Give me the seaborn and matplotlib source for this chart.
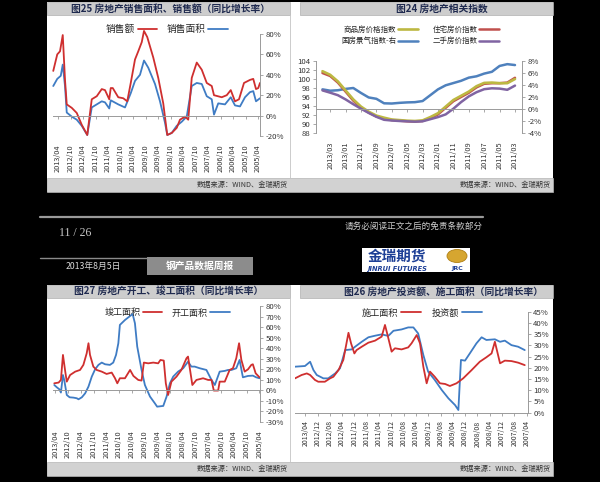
import numpy as np
import pandas as pd
import matplotlib
matplotlib.use("Agg")
import matplotlib.pyplot as plt
import seaborn as sns
from matplotlib.patches import Rectangle, Ellipse

# ---------------- data ----------------
# 图25 房地产销售面积、销售额（同比增长率, %）
SALES_VALUE_T = [2013.44, 2013.28, 2013.17, 2013.06, 2012.97, 2012.90, 2012.70, 2012.50, 2012.30, 2012.08,
                 2011.90, 2011.70, 2011.50, 2011.37, 2011.20, 2011.14, 2011.06, 2010.84, 2010.64, 2010.48,
                 2010.34, 2010.17, 2010.04, 2009.90, 2009.81, 2009.68, 2009.44, 2009.24, 2009.04, 2008.88,
                 2008.70, 2008.50, 2008.37, 2008.17, 2008.04, 2007.90, 2007.70, 2007.50, 2007.30, 2007.10,
                 2007.01, 2006.70, 2006.50, 2006.34, 2006.17, 2006.01, 2005.81, 2005.57, 2005.44, 2005.33,
                 2005.24, 2005.17]
SALES_VALUE = [43.8, 60, 63, 79, 35, 11, 7.6, 2.6, -9, -19,
               16, 19, 26, 25, 16, 27, 27, 18, 17, 14,
               32, 55, 63, 72, 83, 77, 57, 37, 12, -19,
               -17, -12, -4, -1, -4, 37, 52, 45, 32, 29,
               20, 18, 20, 25, 14, 16, 32, 35, 36, 26,
               27, 32]
SALES_AREA_T = [2013.44, 2013.28, 2013.14, 2013.06, 2012.97, 2012.90, 2012.70, 2012.50, 2012.30, 2012.08,
                2011.90, 2011.70, 2011.50, 2011.37, 2011.20, 2011.14, 2010.84, 2010.57, 2010.34, 2010.17,
                2009.97, 2009.81, 2009.64, 2009.37, 2009.17, 2008.97, 2008.88, 2008.70, 2008.50, 2008.30,
                2008.10, 2007.90, 2007.70, 2007.50, 2007.30, 2007.10, 2007.01, 2006.84, 2006.57, 2006.34,
                2006.17, 2005.97, 2005.77, 2005.57, 2005.44, 2005.33, 2005.17]
SALES_AREA = [29, 36, 39, 50, 29, 3, -1, -4, -10, -19,
              8, 11, 14, 13, 7, 15, 11, 8, 22, 34,
              40, 54, 47, 31, 14, -7, -19, -17, -10, -6,
              -1, 29, 32, 31, 19, 16, 1, 12, 11, 18,
              10, 9, 18, 23, 24, 14, 17]
HALF_YEAR_LABELS = ['2005/04', '2005/10', '2006/04', '2006/10', '2007/04', '2007/10', '2008/04', '2008/10',
                    '2009/04', '2009/10', '2010/04', '2010/10', '2011/04', '2011/10', '2012/04', '2012/10',
                    '2013/04']

# 图24 房地产相关指数 (monthly)
CH2_MONTHS = ['2011/03', '2011/04', '2011/05', '2011/06', '2011/07', '2011/08', '2011/09', '2011/10',
              '2011/11', '2011/12', '2012/01', '2012/02', '2012/03', '2012/04', '2012/05', '2012/06',
              '2012/07', '2012/08', '2012/09', '2012/10', '2012/11', '2012/12', '2013/01', '2013/02',
              '2013/03', '2013/04']
HOUSE_PRICE = [5.2, 4.4, 4.3, 4.3, 4.2, 3.6, 2.7, 2.0, 1.3, 0.2, -0.9, -1.5, -2.0, -2.1, -2.05, -1.95,
               -1.85, -1.6, -1.25, -0.6, 0.2, 1.4, 2.9, 4.4, 5.5, 6.0]
COMMODITY_PRICE = [5.0, 4.3, 4.3, 4.4, 4.35, 3.8, 2.9, 2.2, 1.5, 0.4, -0.7, -1.35, -1.9, -2.0, -1.95, -1.85,
                   -1.75, -1.45, -1.1, -0.45, 0.4, 1.6, 3.1, 4.6, 5.7, 6.3]
SECOND_HAND_PRICE = [3.9, 3.2, 3.4, 3.45, 3.3, 2.8, 2.1, 1.15, 0.05, -0.9, -1.35, -1.7, -2.05, -2.11, -2.05,
                     -2.0, -1.92, -1.8, -1.3, -0.65, 0.05, 0.8, 1.6, 2.3, 2.72, 3.1]
CLIMATE_INDEX = [103.1, 103.3, 102.9, 101.6, 101.2, 100.6, 100.3, 99.6, 99.1, 98.6, 97.7, 96.4, 95.1, 94.85,
                 94.8, 94.7, 94.55, 94.6, 95.6, 95.9, 96.9, 98.0, 97.8, 97.5, 97.4, 97.7]

# 图27 房地产开工、竣工面积（同比增长率, %）
COMPLETED_T = [2013.29, 2013.12, 2013.03, 2012.95, 2012.86, 2012.80, 2012.67, 2012.47, 2012.28, 2012.15,
               2012.02, 2011.95, 2011.89, 2011.76, 2011.63, 2011.43, 2011.24, 2011.04, 2010.91, 2010.82,
               2010.72, 2010.52, 2010.32, 2010.19, 2010.00, 2009.87, 2009.78, 2009.61, 2009.41, 2009.22,
               2009.13, 2009.00, 2008.92, 2008.83, 2008.70, 2008.50, 2008.31, 2008.11, 2008.05, 2007.88,
               2007.72, 2007.46, 2007.26, 2007.13, 2007.04, 2006.87, 2006.81, 2006.61, 2006.42, 2006.29,
               2006.16, 2006.05, 2005.96, 2005.83, 2005.70, 2005.57, 2005.51, 2005.40, 2005.25]
COMPLETED = [6.5, 7.2, 9.7, 33.5, 17.6, 8.1, 14.4, 17.6, 19.2, 24.0,
             35.0, 44.6, 33.5, 22.4, 19.2, 17.6, 15.4, 16.7, 11.3, 6.5,
             11.3, 11.3, 19.2, 13.5, 9.7, 9.1, 26.2, 25.5, 26.2, 25.5,
             28.7, 28.1, 6.5, -4.6, 8.1, 12.9, 19.2, 30.3, 31.9, 4.9,
             9.7, 11.3, 9.7, 9.7, -0.4, -0.4, 8.1, 8.1, 19.2, 20.8,
             30.3, 44.6, 28.7, 17.6, 19.8, 24.0, 24.6, 16.0, 12.2]
STARTED_T = [2013.29, 2013.19, 2013.09, 2013.03, 2012.95, 2012.90, 2012.80, 2012.69, 2012.54, 2012.41,
             2012.34, 2012.21, 2012.08, 2011.95, 2011.82, 2011.69, 2011.56, 2011.43, 2011.30, 2011.11,
             2010.98, 2010.87, 2010.78, 2010.72, 2010.52, 2010.32, 2010.22, 2010.13, 2010.04, 2009.87,
             2009.74, 2009.54, 2009.35, 2009.26, 2009.02, 2008.89, 2008.76, 2008.63, 2008.44, 2008.24,
             2008.05, 2007.92, 2007.79, 2007.59, 2007.33, 2007.13, 2007.00, 2006.81, 2006.61, 2006.48,
             2006.35, 2006.16, 2006.03, 2005.90, 2005.70, 2005.51, 2005.38, 2005.25]
STARTED = [4.9, 2.7, 0.8, -2.3, 14.4, 9.7, -4.6, -6.8, -7.1, -7.7,
           -8.7, -6.8, -3.0, 3.4, 12.9, 19.8, 24.0, 26.2, 24.6, 24.0,
           26.2, 33.5, 44.6, 62.0, 66.7, 70.5, 72.4, 63.6, 41.4, 19.2,
           4.9, -6.1, -12.5, -15.7, -15.0, -6.1, 6.5, 12.9, 17.6, 20.8,
           27.1, 22.4, 22.4, 20.8, 19.2, 9.7, 4.9, 17.6, 18.3, 19.2,
           19.2, 20.8, 28.7, 12.2, 13.5, 13.8, 12.2, 11.3]

# 图26 房地产投资额、施工面积（同比增长率, %）
INVEST_T = [2013.53, 2013.26, 2013.12, 2013.03, 2012.94, 2012.76, 2012.63, 2012.44, 2012.31, 2012.17,
            2011.99, 2011.90, 2011.72, 2011.54, 2011.36, 2011.18, 2011.00, 2010.86, 2010.64, 2010.46,
            2010.32, 2010.19, 2010.05, 2009.92, 2009.74, 2009.55, 2009.37, 2009.19, 2009.10, 2009.03,
            2008.92, 2008.79, 2008.61, 2008.47, 2008.34, 2008.11, 2007.97, 2007.84, 2007.66, 2007.48,
            2007.30]
INVEST = [20.5, 20.8, 22.7, 19.0, 16.8, 15.3, 15.3, 17.5, 19.8, 27.9,
          28.2, 29.4, 31.6, 33.6, 34.3, 34.9, 34.2, 36.5, 37.1, 38.0,
          38.0, 35.3, 25.7, 18.3, 14.6, 10.1, 6.4, 3.4, 1.2, 23.5,
          23.2, 26.4, 30.9, 33.6, 32.4, 32.7, 31.6, 32.1, 30.1, 29.4,
          27.9]
UNDER_CONSTR_T = [2013.53, 2013.35, 2013.21, 2013.12, 2012.99, 2012.90, 2012.72, 2012.58, 2012.49, 2012.35,
                  2012.22, 2012.08, 2012.01, 2011.92, 2011.86, 2011.72, 2011.54, 2011.36, 2011.18, 2011.09,
                  2011.02, 2010.91, 2010.82, 2010.64, 2010.46, 2010.37, 2010.23, 2010.14, 2010.05, 2009.96,
                  2009.87, 2009.74, 2009.60, 2009.46, 2009.33, 2009.15, 2008.97, 2008.74, 2008.52, 2008.34,
                  2008.20, 2008.11, 2007.97, 2007.84, 2007.66, 2007.48, 2007.30]
UNDER_CONSTR = [15.3, 16.8, 17.5, 16.8, 14.6, 13.8, 13.8, 15.3, 16.0, 19.0,
                23.5, 35.6, 30.9, 26.4, 27.9, 29.4, 31.2, 32.1, 33.9, 39.1,
                34.6, 27.2, 28.7, 28.2, 29.1, 30.9, 34.6, 30.9, 20.5, 13.1,
                18.3, 16.0, 13.1, 12.8, 11.9, 13.1, 15.3, 19.0, 22.7, 24.7,
                26.4, 31.6, 22.0, 23.2, 23.0, 22.3, 21.2]
FOUR_MONTH_LABELS = ['2007/04', '2007/08', '2007/12', '2008/04', '2008/08', '2008/12', '2009/04', '2009/08',
                     '2009/12', '2010/04', '2010/08', '2010/12', '2011/04', '2011/08', '2011/12', '2012/04',
                     '2012/08', '2012/12', '2013/04']

# ---------------- style ----------------
sns.set_theme(style="white")
plt.rcParams['font.family'] = ['Noto Sans CJK SC', 'DejaVu Sans']
plt.rcParams['axes.unicode_minus'] = False

W, H = 600, 482
RED = '#cf2f2f'
BLUE = '#3f7cc4'
AXC = '#9a9a9a'
TXT = '#333333'
TITLE_C = '#1f2a4f'

fig = plt.figure(figsize=(6.0, 4.82), dpi=100, facecolor='black')


def fxy(x, y):
    return x / W, 1 - y / H


def box(x0, y0, x1, y1, fc, ec='none', lw=0.0, z=0):
    fig.add_artist(Rectangle((x0 / W, 1 - y1 / H), (x1 - x0) / W, (y1 - y0) / H,
                             transform=fig.transFigure, facecolor=fc, edgecolor=ec,
                             linewidth=lw, zorder=z))


def hline(x0, x1, y, color, lw):
    fig.add_artist(plt.Line2D([x0 / W, x1 / W], [1 - y / H, 1 - y / H],
                              transform=fig.transFigure, color=color, lw=lw, zorder=1))


def vline(x, y0, y1, color, lw):
    fig.add_artist(plt.Line2D([x / W, x / W], [1 - y0 / H, 1 - y1 / H],
                              transform=fig.transFigure, color=color, lw=lw, zorder=1))


def ftext(x, y, s, **kw):
    fx, fy = fxy(x, y)
    fig.text(fx, fy, s, **kw)


def ym(s):
    y, m = s.split('/')
    return int(y) + (int(m) - 1) / 12


def new_axes(x0, y0, x1, y1):
    ax = fig.add_axes([x0 / W, 1 - y1 / H, (x1 - x0) / W, (y1 - y0) / H])
    ax.patch.set_visible(False)
    return ax


def finish(ax, ylim, yticks, xlim, xticks, xlabels, zero_line, label_pad, label_size=5.3):
    ax.set_xlim(*xlim)
    ax.set_ylim(*ylim)
    ax.set_xlabel('')
    ax.set_ylabel('')
    ax.yaxis.tick_right()
    ax.set_yticks(yticks)
    ax.set_yticklabels([f'{v:g}%' for v in yticks])
    ax.tick_params(axis='y', which='both', direction='out', length=2.5, width=0.6, color=AXC,
                   labelsize=5.6, labelcolor=TXT, pad=1.5, right=True, left=False)
    for s in ('top', 'left'):
        ax.spines[s].set_visible(False)
    for s in ('right', 'bottom'):
        ax.spines[s].set_color(AXC)
        ax.spines[s].set_linewidth(0.7)
    ax.set_xticks(xticks)
    if zero_line:
        ax.spines['bottom'].set_position(('data', 0))
        ax.tick_params(axis='x', direction='out', length=2, width=0.6, color=AXC,
                       labelbottom=False, bottom=True)
        sec = ax.secondary_xaxis('bottom')
        sec.set_xticks(xticks)
        sec.set_xticklabels(xlabels)
        sec.tick_params(axis='x', length=0, labelsize=label_size, labelrotation=90,
                        pad=label_pad, labelcolor=TXT)
        sec.spines['bottom'].set_visible(False)
    else:
        ax.set_xticklabels(xlabels)
        ax.tick_params(axis='x', direction='out', length=2, width=0.6, color=AXC, bottom=True,
                       labelsize=label_size, labelrotation=90, pad=label_pad, labelcolor=TXT)


def legend(ax, handles, labels, cx, cy, fs, ncol=2, hl=2.0, cs=1.0):
    fx, fy = fxy(cx, cy)
    ax.legend(handles, labels, loc='center', bbox_to_anchor=(fx, fy), bbox_transform=fig.transFigure,
              ncol=ncol, frameon=False, markerfirst=False, fontsize=fs, handlelength=hl,
              handletextpad=0.25, columnspacing=cs, labelspacing=0.45, borderpad=0.1)


# ---------------- page background ----------------
box(47, 2, 553, 192, 'white')
box(47, 285, 553, 476, 'white')
for (ya, yb) in ((2, 15), (285, 298)):
    box(47, ya, 290, yb, '#cdcdcd', ec='#b0b0b0', lw=0.5)
    box(300, ya, 553, yb, '#cdcdcd', ec='#b0b0b0', lw=0.5)
for (ya, yb) in ((178, 192), (462, 476)):
    box(47, ya, 553, yb, '#d2d2d2', ec='#b5b5b5', lw=0.5)
vline(290, 15, 178, '#c4c4c4', 0.6)
vline(290, 298, 462, '#c4c4c4', 0.6)

# titles & sources
tkw = dict(ha='right', va='center', fontsize=7, color=TITLE_C, fontweight='bold')
ftext(270, 8.5, '图25 房地产销售面积、销售额（同比增长率）', **tkw)
ftext(488, 8.5, '图24 房地产相关指数', **tkw)
ftext(263, 291.5, '图27 房地产开工、竣工面积（同比增长率）', **tkw)
ftext(543, 291.5, '图26 房地产投资额、施工面积（同比增长率）', **tkw)
skw = dict(ha='right', va='center', fontsize=5.2, color='#333333')
ftext(288, 184.5, '数据来源：WIND、金瑞期货', **skw)
ftext(551, 184.5, '数据来源：WIND、金瑞期货', **skw)
ftext(288, 469, '数据来源：WIND、金瑞期货', **skw)
ftext(551, 469, '数据来源：WIND、金瑞期货', **skw)

# middle band
hline(40, 483, 217.3, '#9a9a9a', 1.6)
ftext(75, 233, '11 / 26', ha='center', va='center', fontsize=8.5, color='#c8c8c8',
      family=['Liberation Serif', 'DejaVu Serif'])
ftext(483, 226, '请务必阅读正文之后的免责条款部分', ha='right', va='center', fontsize=6.2, color='#cfcfcf')
box(362, 248, 470, 272, 'white')
ftext(397, 256, '金瑞期货', ha='center', va='center', fontsize=10.5, color='#1d3f96', fontweight='bold')
ftext(397, 268.5, 'JINRUI FUTURES', ha='center', va='center', fontsize=4.8, color='#1d3f96',
      fontweight='bold', style='italic', family=['DejaVu Sans'])
fig.add_artist(Ellipse(fxy(457, 256), 20 / W, 13 / H, transform=fig.transFigure,
                       facecolor='#d6a630', edgecolor='#b07f12', lw=0.6, zorder=2))
ftext(457, 268.5, 'JRC', ha='center', va='center', fontsize=4.5, color='#1d3f96', fontweight='bold',
      family=['DejaVu Sans'])
hline(40, 147, 258, '#8a8a8a', 1.0)
box(147, 257, 253, 275, '#8c8c8c')
ftext(93, 266, '2013年8月5日', ha='center', va='center', fontsize=6.3, color='#d8d8d8')
ftext(200, 266, '钢产品数据周报', ha='center', va='center', fontsize=7, color='white', fontweight='bold')

# ---------------- chart 1: 图25 ----------------
df_sv = pd.DataFrame({'t': SALES_VALUE_T, 'v': SALES_VALUE})
df_sa = pd.DataFrame({'t': SALES_AREA_T, 'v': SALES_AREA})
ax1 = new_axes(53, 34, 260, 136)
sns.lineplot(data=df_sa, x='t', y='v', ax=ax1, color=BLUE, lw=1.3, estimator=None, label='销售面积', clip_on=False)
sns.lineplot(data=df_sv, x='t', y='v', ax=ax1, color=RED, lw=1.3, estimator=None, label='销售额', clip_on=False)
hy = [ym(s) for s in HALF_YEAR_LABELS]
finish(ax1, (-20, 80), [-20, 0, 20, 40, 60, 80], (2013.45, 2005.17), hy, HALF_YEAR_LABELS, True, 6)
h, l = ax1.get_legend_handles_labels()
d = dict(zip(l, h))
legend(ax1, [d['销售额'], d['销售面积']], ['销售额', '销售面积'], 167, 29, 7, hl=2.0, cs=1.0)

# ---------------- chart 2: 图24 ----------------
m = np.arange(len(CH2_MONTHS))
df2 = pd.DataFrame({'m': m, 'house': HOUSE_PRICE, 'comm': COMMODITY_PRICE,
                    'second': SECOND_HAND_PRICE, 'climate': CLIMATE_INDEX})
ax2 = new_axes(316, 61, 522, 133)
ax2r = ax2.twinx()
sns.lineplot(data=df2, x='m', y='climate', ax=ax2, color='#4f81bd', lw=1.8, label='国房景气指数-右')
sns.lineplot(data=df2, x='m', y='house', ax=ax2r, color='#c0504d', lw=1.8, label='住宅房价指数')
sns.lineplot(data=df2, x='m', y='comm', ax=ax2r, color='#bdb842', lw=1.9, label='商品房价格指数')
sns.lineplot(data=df2, x='m', y='second', ax=ax2r, color='#8064a2', lw=1.8, label='二手房价指数')
for a in (ax2, ax2r):
    a.set_xlim(25.84, -0.91)
    a.set_xlabel('')
    a.set_ylabel('')
ax2.set_ylim(88, 104)
ax2.set_yticks(np.arange(88, 105, 2))
ax2.tick_params(axis='y', left=True, right=False, direction='out', length=2.5, width=0.6, color=AXC,
                labelsize=5.6, labelcolor=TXT, pad=1.5)
ax2.set_xticks(m[::2][:13])
ax2.set_xticklabels(CH2_MONTHS[::2][:13])
ax2.tick_params(axis='x', length=0, labelsize=5.3, labelrotation=90, pad=6, labelcolor=TXT)
for s in ('top', 'right', 'bottom'):
    ax2.spines[s].set_visible(False)
ax2.spines['left'].set_color(AXC)
ax2.spines['left'].set_linewidth(0.7)
ax2r.set_ylim(-4, 8)
ax2r.set_yticks(np.arange(-4, 9, 2))
ax2r.set_yticklabels([f'{v}%' for v in np.arange(-4, 9, 2)])
ax2r.tick_params(axis='y', right=True, left=False, direction='out', length=2.5, width=0.6, color=AXC,
                 labelsize=5.6, labelcolor=TXT, pad=1.5)
ax2r.xaxis.set_visible(True)
ax2r.tick_params(axis='x', bottom=True, labelbottom=False, direction='out', length=2, width=0.6, color=AXC)
for s in ('top', 'left'):
    ax2r.spines[s].set_visible(False)
ax2r.spines['bottom'].set_position(('data', 0))
for s in ('right', 'bottom'):
    ax2r.spines[s].set_color(AXC)
    ax2r.spines[s].set_linewidth(0.7)
if ax2.get_legend() is not None:
    ax2.get_legend().remove()
h1, l1 = ax2.get_legend_handles_labels()
h2, l2 = ax2r.get_legend_handles_labels()
d2 = dict(zip(l1 + l2, h1 + h2))
order2 = ['商品房价格指数', '国房景气指数-右', '住宅房价指数', '二手房价指数']
legend(ax2r, [d2[k] for k in order2], order2, 420, 35.5, 5.4, hl=2.6, cs=2.0)

# ---------------- chart 3: 图27 ----------------
df_cp = pd.DataFrame({'t': COMPLETED_T, 'v': COMPLETED})
df_st = pd.DataFrame({'t': STARTED_T, 'v': STARTED})
ax3 = new_axes(53, 306, 260, 421.7)
sns.lineplot(data=df_st, x='t', y='v', ax=ax3, color=BLUE, lw=1.3, estimator=None, label='开工面积')
sns.lineplot(data=df_cp, x='t', y='v', ax=ax3, color=RED, lw=1.3, estimator=None, label='竣工面积')
finish(ax3, (-30, 80), list(range(-30, 81, 10)), (2013.34, 2005.23), hy, HALF_YEAR_LABELS, True, 6.5)
h, l = ax3.get_legend_handles_labels()
d3 = dict(zip(l, h))
legend(ax3, [d3['竣工面积'], d3['开工面积']], ['竣工面积', '开工面积'], 167, 313, 6.5, hl=2.2, cs=1.0)

# ---------------- chart 4: 图26 ----------------
df_iv = pd.DataFrame({'t': INVEST_T, 'v': INVEST})
df_uc = pd.DataFrame({'t': UNDER_CONSTR_T, 'v': UNDER_CONSTR})
ax4 = new_axes(295, 311.7, 527.7, 412.7)
sns.lineplot(data=df_iv, x='t', y='v', ax=ax4, color=BLUE, lw=1.3, estimator=None, label='投资额')
sns.lineplot(data=df_uc, x='t', y='v', ax=ax4, color=RED, lw=1.3, estimator=None, label='施工面积')
fq = [ym(s) for s in FOUR_MONTH_LABELS]
finish(ax4, (0, 45), list(range(0, 46, 5)), (2013.53, 2007.22), fq, FOUR_MONTH_LABELS, False, 3.5, 5.0)
h, l = ax4.get_legend_handles_labels()
d4 = dict(zip(l, h))
legend(ax4, [d4['施工面积'], d4['投资额']], ['施工面积', '投资额'], 422, 313, 6.6, hl=2.2, cs=1.2)

fig.savefig('out.png', dpi=100, facecolor='black')
